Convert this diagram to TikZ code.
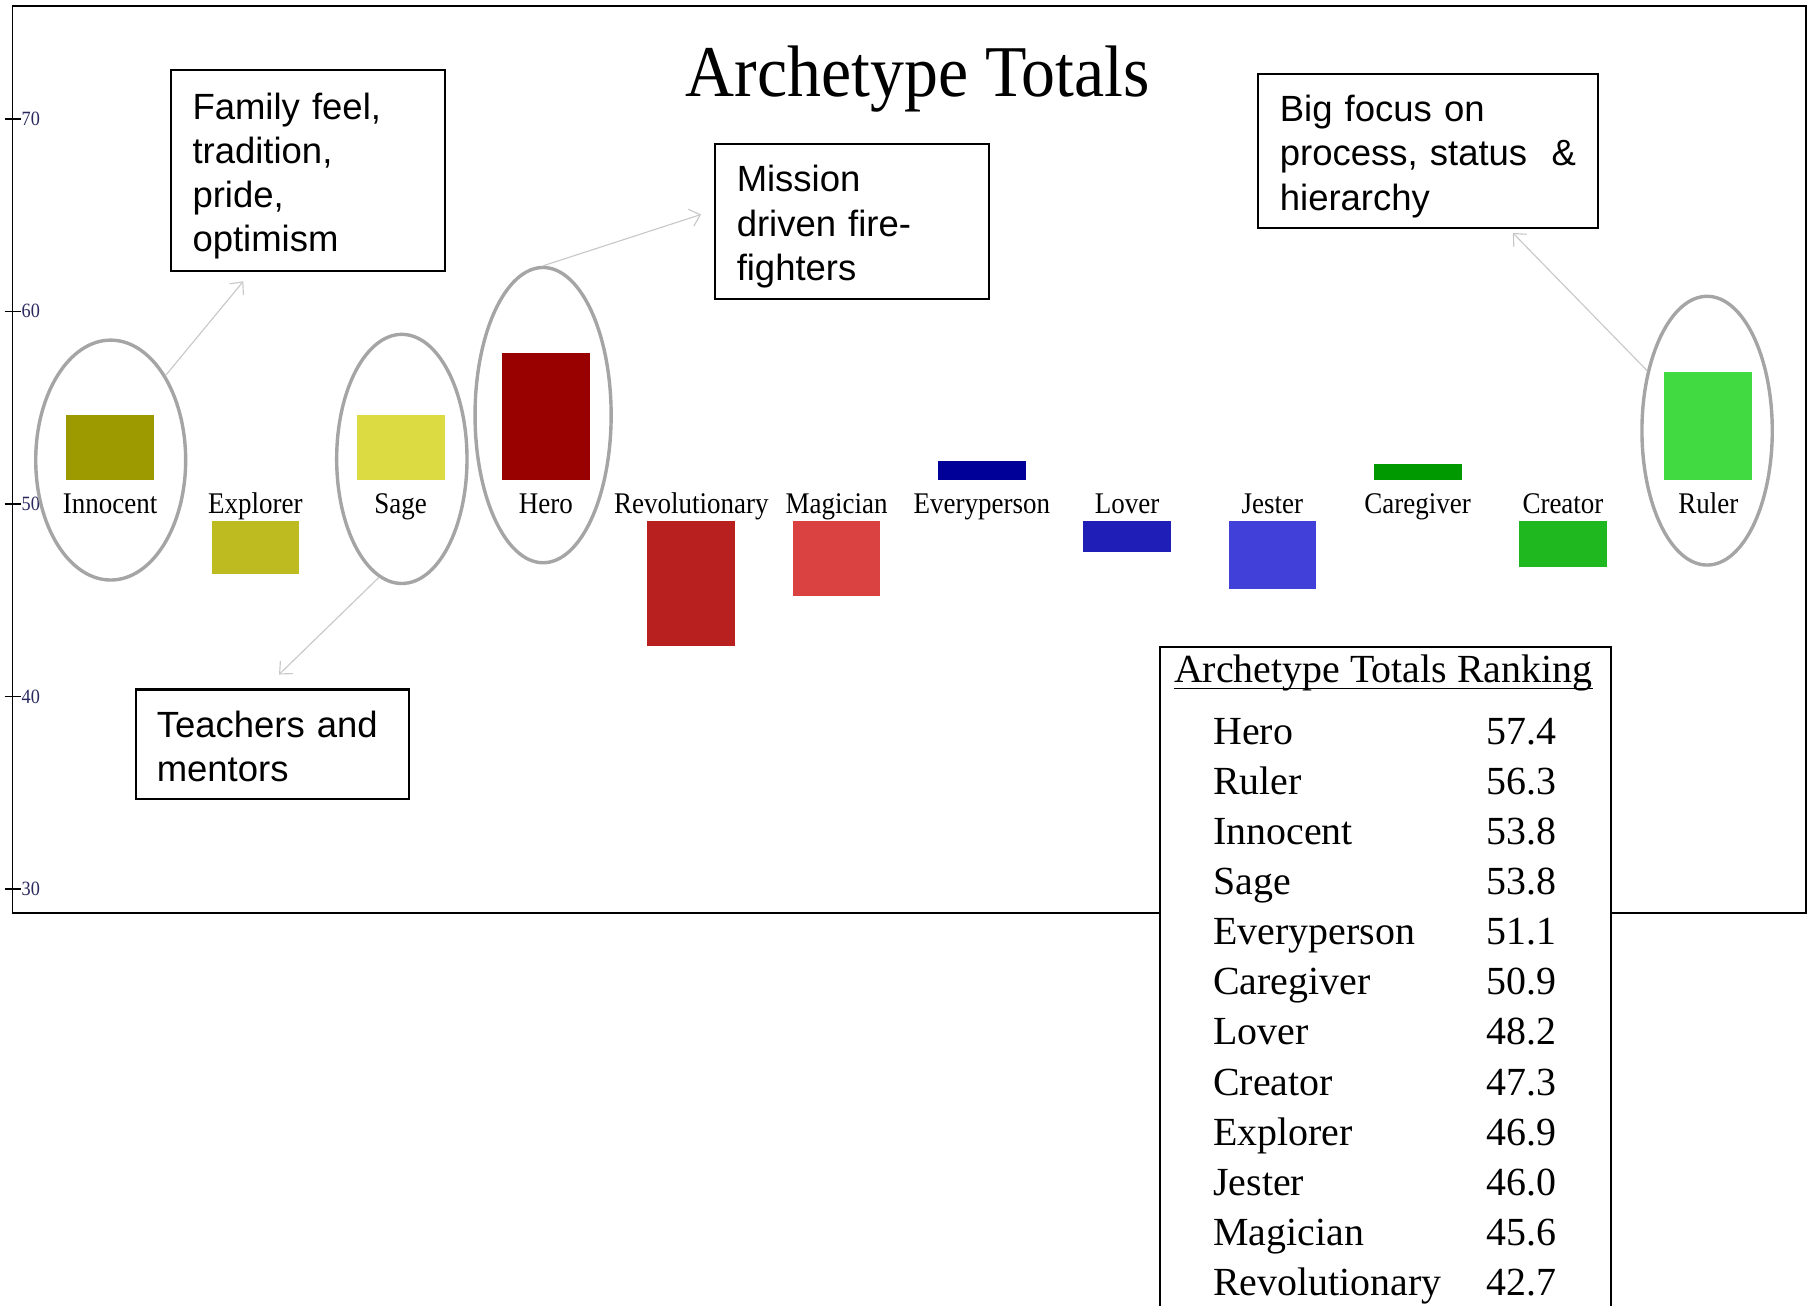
\documentclass[tikz,border=0pt]{standalone}
\usepackage{fontspec}
\setmainfont{Liberation Serif}
\newfontfamily\notefont{Liberation Sans}
\newfontfamily\narrowserif[FakeStretch=0.9]{Liberation Serif}
\newfontfamily\titleserif[FakeStretch=0.93]{Liberation Serif}
\usetikzlibrary{shapes.geometric,arrows.meta}

\definecolor{ringgray}{RGB}{165,165,165}
\definecolor{arrowgray}{RGB}{200,200,200}
\definecolor{tickink}{RGB}{40,40,95}
\definecolor{cInnocent}{RGB}{157,154,0}
\definecolor{cExplorer}{RGB}{189,187,31}
\definecolor{cSage}{RGB}{221,219,66}
\definecolor{cHero}{RGB}{153,0,0}
\definecolor{cRevolutionary}{RGB}{184,32,32}
\definecolor{cMagician}{RGB}{218,65,65}
\definecolor{cEveryperson}{RGB}{0,0,153}
\definecolor{cLover}{RGB}{31,31,184}
\definecolor{cJester}{RGB}{65,65,218}
\definecolor{cCaregiver}{RGB}{0,153,0}
\definecolor{cCreator}{RGB}{31,184,31}
\definecolor{cRuler}{RGB}{65,218,65}

% strut that lowers the text block inside the note boxes
\newcommand{\notetop}{\rule{0pt}{23pt}}

\begin{document}
\begin{tikzpicture}[x=0.025cm,y=-0.025cm,
  chartframe/.style={draw=black,line width=1pt},
  ring/.style={ellipse,draw=ringgray,line width=2.1pt,inner sep=0pt},
  note/.style={draw=black,line width=1.3pt,fill=white,align=left,
    inner ysep=0pt,inner xsep=13.5pt,
    font=\notefont\fontsize{22.5}{27.3}\selectfont},
  pointer/.style={draw=arrowgray,line width=0.7pt,
    -{Straight Barb[length=6pt,width=11pt]}},
  catlabel/.style={anchor=base,inner sep=0pt,
    font=\narrowserif\fontsize{18.5}{20}\selectfont},
  ticklabel/.style={anchor=west,inner sep=0pt,text=tickink,
    font=\narrowserif\fontsize{12.5}{13}\selectfont},
  rankentry/.style={anchor=base west,inner sep=0pt,
    font=\fontsize{24.6}{28}\selectfont},
]
\useasboundingbox (0,0) rectangle (1568,1132);

% chart frame and value axis ticks
\draw[chartframe] (11,5) rectangle (1566,792);
\foreach \lab/\yy in {70/103,60/270,50/437,40/604,30/771}{
  \draw[line width=1pt] (4,\yy) -- (18,\yy);
  \node[ticklabel] (tick\lab) at (18.5,\yy) {\lab};
}

% title
\node[anchor=base,inner sep=0pt,font=\titleserif\fontsize{45}{50}\selectfont]
  (title) at (796,84) {Archetype Totals};

% bars above / below the 50 line, with their labels
\foreach \nm/\v [count=\i from 0] in {Innocent/53.8,Explorer/46.9,Sage/53.8,
  Hero/57.4,Revolutionary/42.7,Magician/45.6,Everyperson/51.1,Lover/48.2,
  Jester/46.0,Caregiver/50.9,Creator/47.3,Ruler/56.3}{
  \pgfmathsetmacro\cx{95.5+126*\i}
  \pgfmathsetmacro\ya{\v>50 ? 416 : 452}
  \pgfmathsetmacro\yb{\v>50 ? 416-14.8*(\v-50) : 452+14.8*(50-\v)}
  \fill[c\nm] ({\cx-38},\ya) rectangle ({\cx+38},\yb);
  \node[catlabel] (lab\nm) at (\cx,445) {\nm};
}

% highlight rings
\node[ring,minimum width=3.25cm,minimum height=5.2cm] (innE) at (96,399) {};
\node[ring,minimum width=2.825cm,minimum height=5.4cm] (sageE) at (348.5,398) {};
\node[ring,minimum width=2.95cm,minimum height=6.4cm] (heroE) at (471,360) {};
\node[ring,minimum width=2.825cm,minimum height=5.825cm] (rulerE) at (1480.5,373.5) {};

% annotation boxes
\node[note,minimum width=5.95cm,minimum height=4.35cm,text width=142.3pt]
  (famBox) at (267,148) {\notetop Family feel,\\tradition,\\pride,\\optimism};
\node[note,minimum width=5.95cm,minimum height=3.35cm,text width=142.3pt]
  (misBox) at (739,192) {\notetop Mission\\driven fire-\\fighters};
\node[note,minimum width=7.375cm,minimum height=3.35cm,text width=182.8pt]
  (bigBox) at (1238.5,131) {\notetop Big focus on\\process, status \ \&\\hierarchy};
\node[note,minimum width=5.925cm,minimum height=2.375cm,text width=143pt,inner xsep=12.8pt]
  (teaBox) at (236.5,645.5) {\rule{0pt}{19pt}Teachers and\\mentors};

% pointers from rings to annotations
\coordinate (famTip) at (211,244);
\coordinate (misTip) at (608,186);
\coordinate (teaTip) at (242,585);
\coordinate (bigTip) at (1312,202);
\draw[pointer] (innE.57) -- (famTip);
\draw[pointer] (heroE.north) -- (misTip);
\draw[pointer] (sageE.259) -- (teaTip);
\draw[pointer] (rulerE.135) -- (bigTip);

% ranking table
\draw[line width=1.3pt,fill=white] (1006,561) rectangle (1397,1150);
\node[rankentry] (rankTitle) at (1018,592) {Archetype Totals Ranking};
\draw[line width=0.9pt] ([yshift=-3.5pt]rankTitle.base west) -- ([yshift=-3.5pt]rankTitle.base east);
\foreach \nm/\val [count=\i from 0] in {Hero/57.4,Ruler/56.3,Innocent/53.8,
  Sage/53.8,Everyperson/51.1,Caregiver/50.9,Lover/48.2,Creator/47.3,
  Explorer/46.9,Jester/46.0,Magician/45.6,Revolutionary/42.7}{
  \node[rankentry] (rn\i) at (1052,{645.5+43.45*\i}) {\nm};
  \node[rankentry] (rv\i) at (1289,{645.5+43.45*\i}) {\val};
}
\end{tikzpicture}
\end{document}
